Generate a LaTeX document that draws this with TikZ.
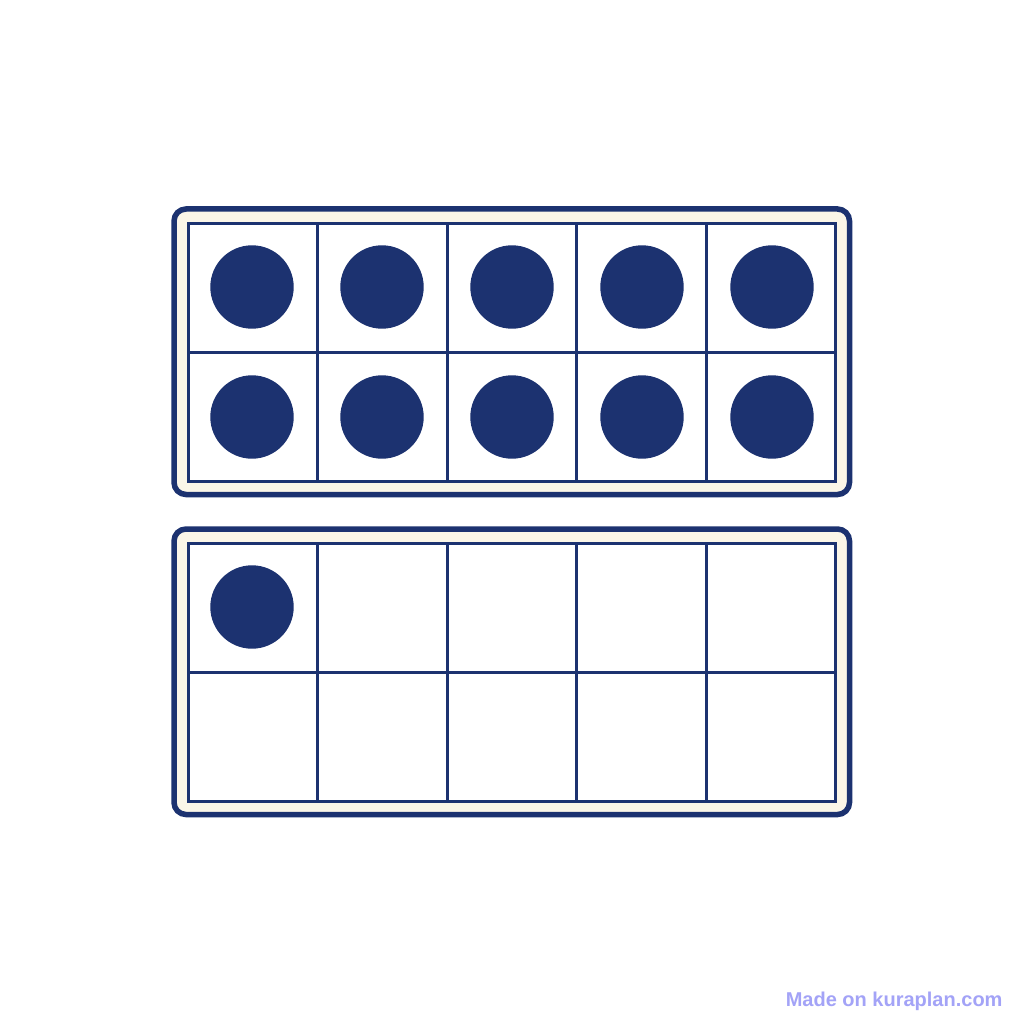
\documentclass[tikz,border=0pt]{standalone}
\usepackage{fontspec}
\setmainfont{Liberation Sans}
\definecolor{navy}{HTML}{1C3270}
\definecolor{cream}{HTML}{FBF6E8}
\definecolor{stamp}{HTML}{A3A3F7}
\begin{document}
\begin{tikzpicture}[x=1pt, y=-1pt]
		%%%%% START %%%%%
		\useasboundingbox[fill=white] (0, 0) rectangle (1024, 1024);
		
		% upper frame
		\draw[line width=5.5pt, color=navy, fill=cream, rounded corners=12pt] (174, 209) rectangle (849.5, 494.5);
		\draw[line width=3pt, color=navy, fill=white] (188, 223.5) rectangle (835.5, 481);
		\draw[line width=3pt, color=navy] (188, 352) -- (835.5, 352);
		\draw[line width=3pt, color=navy] (317.5, 223.5) -- (317.5, 481);
		\draw[line width=3pt, color=navy] (447, 223.5) -- (447, 481);
		\draw[line width=3pt, color=navy] (576.5, 223.5) -- (576.5, 481);
		\draw[line width=3pt, color=navy] (706, 223.5) -- (706, 481);
		
		\fill[color=navy] (252, 287) circle (41.7);
		\fill[color=navy] (382, 287) circle (41.7);
		\fill[color=navy] (512, 287) circle (41.7);
		\fill[color=navy] (642, 287) circle (41.7);
		\fill[color=navy] (772, 287) circle (41.7);
		\fill[color=navy] (252, 417) circle (41.7);
		\fill[color=navy] (382, 417) circle (41.7);
		\fill[color=navy] (512, 417) circle (41.7);
		\fill[color=navy] (642, 417) circle (41.7);
		\fill[color=navy] (772, 417) circle (41.7);
		
		% lower frame
		\draw[line width=5.5pt, color=navy, fill=cream, rounded corners=12pt] (174, 529) rectangle (849.5, 814.5);
		\draw[line width=3pt, color=navy, fill=white] (188, 543.5) rectangle (835.5, 801);
		\draw[line width=3pt, color=navy] (188, 672) -- (835.5, 672);
		\draw[line width=3pt, color=navy] (317.5, 543.5) -- (317.5, 801);
		\draw[line width=3pt, color=navy] (447, 543.5) -- (447, 801);
		\draw[line width=3pt, color=navy] (576.5, 543.5) -- (576.5, 801);
		\draw[line width=3pt, color=navy] (706, 543.5) -- (706, 801);
		
		\fill[color=navy] (252, 607) circle (41.7);
		
		\node[anchor=base east, inner sep=0pt, color=stamp, font=\bfseries\fontsize{20}{21}\selectfont] (stamp) at (1002.7, 1006) {Made on kuraplan.com};
		
		%%%%% END %%%%%
\end{tikzpicture}
\end{document}
